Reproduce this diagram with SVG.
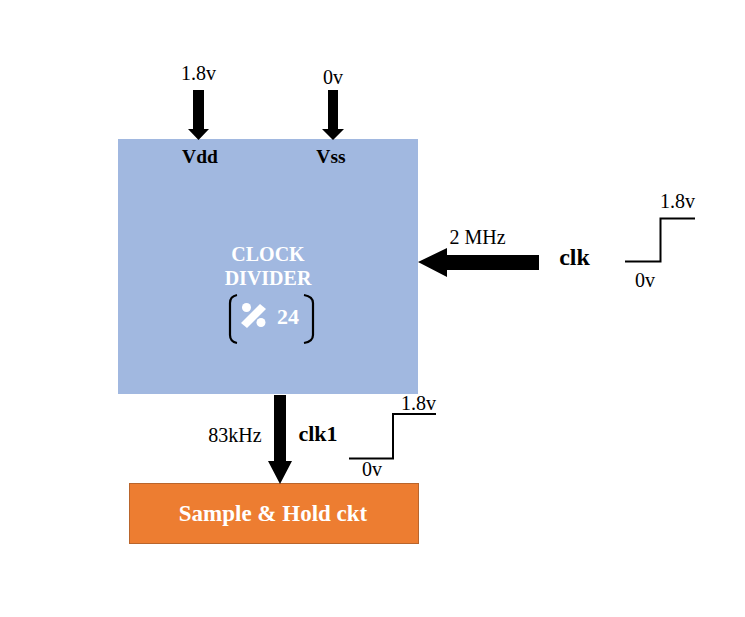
<svg xmlns="http://www.w3.org/2000/svg" width="745" height="617" viewBox="0 0 745 617">
<style>
text{font-family:"Liberation Serif","Times New Roman",serif;fill:#000}
.b{font-weight:bold}
.w{fill:#fff;font-weight:bold}
.m{text-anchor:middle}
.s{font-size:20px}
.wave{fill:none;stroke:#000;stroke-width:2}
.br{fill:none;stroke:#000;stroke-width:2.200}
</style>
<rect width="745" height="617" fill="#fff"/>
<g id="clock-divider">
<rect x="118" y="139" width="300" height="255" fill="#a1b8e0"/>
<text class="w m" x="268" y="261" font-size="20">CLOCK</text>
<text class="w m" x="268" y="285" font-size="20">DIVIDER</text>
<path class="br" d="M237 295C232 296 230 299 230 303V335C230 339 232 342 237 343"/>
<path class="br" d="M304 295C310 296 313 299 313 303V335C313 339 310 342 304 343"/>
<circle cx="246.500" cy="307.500" r="4.500" fill="#fff"/>
<circle cx="261" cy="322.500" r="4.500" fill="#fff"/>
<path d="M260 304L266 309L247 328L241 323Z" fill="#fff"/>
<text class="w m" x="288" y="324" font-size="22">24</text>
<text class="b m" x="200" y="163" font-size="19.500">Vdd</text>
<text class="b m" x="331" y="163" font-size="19.500">Vss</text>
</g>
<g id="sample-hold">
<rect x="129.500" y="483.500" width="289" height="60" fill="#ed7d31" stroke="#b9652c"/>
<text class="w m" x="273" y="521" font-size="23">Sample &amp; Hold ckt</text>
</g>
<g id="connectors">
<path d="M193 90H204V129H209L198.500 140L188 129H193Z"/>
<path d="M328 90H338V129H344L333 140L322 129H328Z"/>
<path d="M539 255V270H447V277L418 262L447 248V255Z"/>
<path d="M274 395H286V461H292L280 484L268 461H274Z"/>
<path class="wave" d="M625 261.500H660.500V218.500H695"/>
<path class="wave" d="M349 458.500H393V414H436"/>
</g>
<g id="labels">
<text class="m s" x="198.500" y="80">1.8v</text>
<text class="m s" x="333" y="84">0v</text>
<text class="m s" x="477.500" y="244">2 MHz</text>
<text class="b m" x="574.500" y="265" font-size="24">clk</text>
<text class="m s" x="677.500" y="208">1.8v</text>
<text class="m s" x="645" y="287">0v</text>
<text class="m s" x="235" y="442">83kHz</text>
<text class="b m" x="318" y="441" font-size="22">clk1</text>
<text class="m s" x="418.500" y="410">1.8v</text>
<text class="m s" x="372" y="476">0v</text>
</g>
</svg>
